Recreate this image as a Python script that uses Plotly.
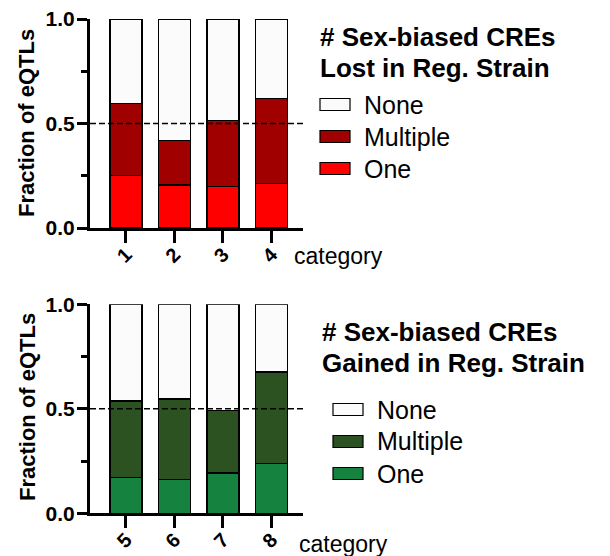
import plotly.graph_objects as go

W, H = 610, 556

# ---------------- data ----------------
cats_lost = ["1", "2", "3", "4"]
cats_gained = ["5", "6", "7", "8"]
series_names = ["None", "Multiple", "One"]

lost_one = [0.250, 0.206, 0.200, 0.212]
lost_multiple = [0.345, 0.214, 0.313, 0.407]
lost_none = [0.405, 0.580, 0.487, 0.381]

gained_one = [0.172, 0.163, 0.193, 0.239]
gained_multiple = [0.365, 0.384, 0.300, 0.437]
gained_none = [0.463, 0.453, 0.507, 0.324]

y_tickvals = [0, 0.5, 1.0]
y_ticktext = ["0.0", "0.5", "1.0"]
y_minor = [0.25, 0.75]
ref_line = 0.5

title_lost = ["# Sex-biased CREs", "Lost in Reg. Strain"]
title_gained = ["# Sex-biased CREs", "Gained in Reg. Strain"]
x_label = "category"
y_label = "Fraction of eQTLs"

# ---------------- style ----------------
FONT = "Liberation Sans, Arial, Helvetica, sans-serif"
col_lost = {"None": "#fbfbfb", "Multiple": "#a00000", "One": "#ff0000"}
col_gained = {"None": "#fbfbfb", "Multiple": "#2c5222", "One": "#15833f"}


def px(x):
    return x / W


def py(y):
    return 1 - y / H


fig = go.Figure()

panels = [
    ("x", "y", cats_lost, {"One": lost_one, "Multiple": lost_multiple, "None": lost_none}, col_lost),
    ("x2", "y2", cats_gained, {"One": gained_one, "Multiple": gained_multiple, "None": gained_none}, col_gained),
]

for xa, ya, cats, vals, cols in panels:
    for name in ["One", "Multiple", "None"]:
        fig.add_trace(go.Bar(
            x=cats, y=vals[name], name=name, xaxis=xa, yaxis=ya,
            width=0.66, showlegend=False,
            marker=dict(color=cols[name], line=dict(color="black", width=1.2)),
        ))

axis_common = dict(showline=True, linewidth=3, linecolor="black", ticks="outside",
                   tickwidth=3, tickcolor="black", showgrid=False, zeroline=False,
                   automargin=False)

xaxis_common = dict(type="category", range=[-0.742, 3.65], ticklen=12, tickangle=-45,
                    ticklabelstandoff=-8,
                    tickfont=dict(size=20, weight="bold", family=FONT))
yaxis_common = dict(range=[0, 1], tickvals=y_tickvals, ticktext=y_ticktext, ticklen=10,
                    ticklabelstandoff=-2,
                    tickfont=dict(size=21, weight="bold", family=FONT),
                    minor=dict(tickvals=y_minor, ticks="outside", ticklen=6, tickwidth=3,
                               tickcolor="black"))

xdom = [px(90), px(303)]
fig.update_layout(
    width=W, height=H, barmode="stack",
    margin=dict(l=0, r=0, t=0, b=0, pad=0, autoexpand=False),
    paper_bgcolor="white", plot_bgcolor="white",
    font=dict(family=FONT, color="black"),
    showlegend=False,
    xaxis=dict(domain=xdom, anchor="y", **xaxis_common, **axis_common),
    yaxis=dict(domain=[py(228), py(19)], anchor="x", **yaxis_common, **axis_common),
    xaxis2=dict(domain=xdom, anchor="y2", **xaxis_common, **axis_common),
    yaxis2=dict(domain=[py(513.3), py(304.3)], anchor="x2", **yaxis_common, **axis_common),
)

# dashed reference lines
for xr, yr in [("x domain", "y"), ("x2 domain", "y2")]:
    fig.add_shape(type="line", xref=xr, yref=yr, x0=0, x1=1, y0=ref_line, y1=ref_line,
                  line=dict(color="black", width=1.5, dash="6px,3px"), layer="above")

annotations = []

# y-axis titles
for cy in [123, 407]:
    annotations.append(dict(x=px(27), y=py(cy), xref="paper", yref="paper", text=y_label,
                            textangle=-90, showarrow=False, xanchor="center", yanchor="middle",
                            font=dict(size=22, weight="bold", family=FONT)))

# "category" labels
for (cx, cy) in [(292, 256), (297, 544)]:
    annotations.append(dict(x=px(cx), y=py(cy), xref="paper", yref="paper", text=x_label,
                            showarrow=False, xanchor="left", yanchor="middle",
                            font=dict(size=23, family=FONT)))

# legends (manual, wide swatches)
legend_specs = [
    (title_lost, 318, [36.5, 67.5], 320, 362, [104.5, 136.5, 168.5], col_lost),
    (title_gained, 320, [331.5, 362.5], 333, 375, [409.5, 441.5, 473.5], col_gained),
]
for titles, tx, tys, sx, lx, iys, cols in legend_specs:
    for t, ty in zip(titles, tys):
        annotations.append(dict(x=px(tx), y=py(ty), xref="paper", yref="paper", text=t,
                                showarrow=False, xanchor="left", yanchor="middle",
                                font=dict(size=26, weight="bold", family=FONT)))
    for name, iy in zip(series_names, iys):
        fig.add_shape(type="rect", xref="paper", yref="paper",
                      x0=px(sx), x1=px(sx + 30), y0=py(iy + 6), y1=py(iy - 6),
                      fillcolor=cols[name], line=dict(color="black", width=1.2))
        annotations.append(dict(x=px(lx), y=py(iy), xref="paper", yref="paper", text=name,
                                showarrow=False, xanchor="left", yanchor="middle",
                                font=dict(size=25, family=FONT)))

fig.update_layout(annotations=annotations)

fig.write_html(
    "out.html",
    config={"displayModeBar": False},
    post_script="document.body.style.margin='0px';document.body.style.overflow='hidden';",
)
